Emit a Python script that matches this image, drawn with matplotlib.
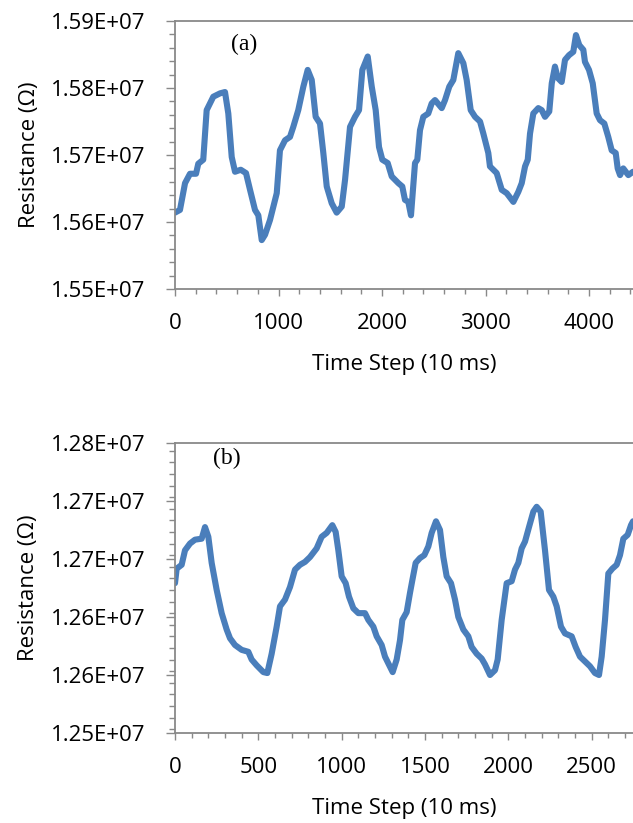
import matplotlib
matplotlib.use("Agg")
import matplotlib.pyplot as plt
import numpy as np
from matplotlib.ticker import MultipleLocator, FuncFormatter

# Panel (a): time step vs resistance (x1e7 ohm)
t_a = [0, 48, 97, 145, 203, 225, 273, 306, 370, 435, 483, 515, 548, 580, 635, 686, 725,
       773, 805, 838, 870, 918, 983, 1014, 1063, 1111, 1143, 1191, 1240, 1282, 1321, 1359,
       1401, 1433, 1466, 1514, 1562, 1611, 1643, 1691, 1739, 1778, 1810, 1862, 1901, 1939,
       1971, 2003, 2055, 2094, 2158, 2196, 2222, 2254, 2280, 2319, 2341, 2367, 2399, 2447,
       2480, 2512, 2577, 2609, 2650, 2689, 2737, 2786, 2818, 2857, 2899, 2947, 2979, 3027,
       3043, 3108, 3157, 3205, 3269, 3317, 3350, 3382, 3408, 3430, 3462, 3510, 3543, 3575,
       3616, 3640, 3671, 3698, 3736, 3768, 3807, 3848, 3874, 3906, 3945, 3961, 4000, 4036,
       4074, 4106, 4148, 4186, 4219, 4258, 4277, 4300, 4331, 4380, 4425]
r_a = [1.5614, 1.5618, 1.5658, 1.5672, 1.5672, 1.5687, 1.5693, 1.5767, 1.5787, 1.5792,
       1.5794, 1.5762, 1.5697, 1.5675, 1.5678, 1.5673, 1.5648, 1.5618, 1.5610, 1.5573,
       1.5581, 1.5603, 1.5643, 1.5707, 1.5722, 1.5727, 1.5742, 1.5767, 1.5802, 1.5827,
       1.5812, 1.5757, 1.5747, 1.5703, 1.5653, 1.5628, 1.5614, 1.5623, 1.5663, 1.5742,
       1.5757, 1.5767, 1.5827, 1.5847, 1.5802, 1.5767, 1.5712, 1.5693, 1.5688, 1.5668,
       1.5658, 1.5653, 1.5633, 1.5630, 1.5610, 1.5688, 1.5693, 1.5737, 1.5757, 1.5762,
       1.5777, 1.5782, 1.5770, 1.5782, 1.5802, 1.5812, 1.5852, 1.5837, 1.5812, 1.5767,
       1.5757, 1.5750, 1.5732, 1.5703, 1.5683, 1.5673, 1.5648, 1.5643, 1.5630, 1.5645,
       1.5658, 1.5683, 1.5693, 1.5732, 1.5762, 1.5770, 1.5767, 1.5757, 1.5765, 1.5807,
       1.5832, 1.5815, 1.5809, 1.5842, 1.5849, 1.5854, 1.5879, 1.5864, 1.5857, 1.5839,
       1.5827, 1.5807, 1.5762, 1.5752, 1.5747, 1.5727, 1.5707, 1.5703, 1.5680, 1.5670,
       1.5680, 1.5670, 1.5675]

# Panel (b)
t_b = [0, 10, 40, 60, 90, 120, 160, 180, 200, 220, 250, 280, 310, 330, 360, 400, 440, 460,
       490, 530, 554, 580, 610, 630, 660, 690, 720, 750, 780, 810, 850, 880, 910, 944, 964,
       980, 1000, 1024, 1044, 1070, 1100, 1140, 1160, 1190, 1210, 1240, 1260, 1280, 1306,
       1330, 1350, 1364, 1390, 1410, 1424, 1444, 1470, 1496, 1520, 1540, 1566, 1590, 1610,
       1630, 1656, 1680, 1700, 1730, 1760, 1780, 1810, 1840, 1860, 1890, 1920, 1936, 1960,
       1990, 2020, 2040, 2060, 2080, 2100, 2124, 2150, 2170, 2194, 2220, 2244, 2270, 2290,
       2316, 2340, 2380, 2404, 2430, 2460, 2490, 2520, 2544, 2560, 2580, 2600, 2624, 2650,
       2670, 2690, 2716, 2736, 2748]
r_b = [1.2655, 1.2670, 1.2674, 1.2689, 1.2696, 1.2700, 1.2701, 1.2713, 1.2703, 1.2676,
       1.2648, 1.2624, 1.2607, 1.2598, 1.2591, 1.2586, 1.2584, 1.2576, 1.2570, 1.2563,
       1.2562, 1.2582, 1.2610, 1.2631, 1.2638, 1.2651, 1.2669, 1.2674, 1.2677, 1.2682,
       1.2691, 1.2703, 1.2707, 1.2715, 1.2708, 1.2689, 1.2662, 1.2655, 1.2641, 1.2629,
       1.2624, 1.2624, 1.2617, 1.2610, 1.2600, 1.2591, 1.2579, 1.2572, 1.2563, 1.2576,
       1.2596, 1.2617, 1.2625, 1.2645, 1.2658, 1.2676, 1.2681, 1.2684, 1.2693, 1.2707,
       1.2719, 1.2710, 1.2682, 1.2662, 1.2655, 1.2638, 1.2620, 1.2607, 1.2600, 1.2589,
       1.2582, 1.2577, 1.2571, 1.2560, 1.2565, 1.2576, 1.2617, 1.2655, 1.2657, 1.2669,
       1.2676, 1.2691, 1.2698, 1.2713, 1.2729, 1.2734, 1.2729, 1.2689, 1.2648, 1.2641,
       1.2631, 1.2610, 1.2603, 1.2600, 1.2589, 1.2579, 1.2574, 1.2569, 1.2562, 1.2560,
       1.2579, 1.2617, 1.2665, 1.2670, 1.2674, 1.2684, 1.2701, 1.2705, 1.2715, 1.2719]

plt.rcParams['font.family'] = ['Open Sans', 'DejaVu Sans']

line_color = '#4a7ebb'
axis_color = '#898989'

fig = plt.figure(figsize=(6.33, 8.23), dpi=100)


def style_axes(ax, xmax, xmaj, xmin, ylo, yhi, ymaj, ymin, tag, tag_pos):
    ax.set_xlim(0, xmax)
    ax.set_ylim(ylo, yhi)
    ax.xaxis.set_major_locator(MultipleLocator(xmaj))
    ax.xaxis.set_minor_locator(MultipleLocator(xmin))
    ax.set_yticks(np.arange(ylo, yhi + ymaj / 2, ymaj))
    ax.yaxis.set_minor_locator(MultipleLocator(ymin))
    ax.yaxis.set_major_formatter(FuncFormatter(lambda v, p: f"{v:.2E}"))
    for s in ['left', 'bottom', 'top']:
        ax.spines[s].set_color(axis_color)
        ax.spines[s].set_linewidth(1.3)
    ax.spines['right'].set_visible(False)
    ax.tick_params(axis='both', which='both', direction='out', color=axis_color,
                   width=1.0, labelsize=16, labelcolor='black')
    ax.tick_params(axis='y', which='major', length=6.5, pad=15)
    ax.tick_params(axis='y', which='minor', length=4)
    ax.tick_params(axis='x', which='major', length=5, pad=12)
    ax.tick_params(axis='x', which='minor', length=3.5)
    ax.set_xlabel('Time Step (10 ms)', fontsize=16, labelpad=15)
    ax.set_ylabel('Resistance (Ω)', fontsize=16, labelpad=8)
    ax.text(tag_pos[0], tag_pos[1], tag, transform=ax.transAxes, ha='center', va='center',
            fontsize=17, family='Liberation Serif')


# panel (a)
ax1 = fig.add_axes([175 / 633, 1 - 289 / 823, 458 / 633, 268 / 823])
ax1.plot(t_a, np.array(r_a) * 1e7, color=line_color, linewidth=4.4, solid_joinstyle='round',
         solid_capstyle='round')
style_axes(ax1, 4425, 1000, 200, 1.55e7, 1.59e7, 1e5, 2e4, '(a)', (0.151, 0.914))

# panel (b)
ax2 = fig.add_axes([175 / 633, 1 - 733 / 823, 458 / 633, 290 / 823])
ax2.plot(t_b, np.array(r_b) * 1e7, color=line_color, linewidth=4.4, solid_joinstyle='round',
         solid_capstyle='round')
style_axes(ax2, 2748, 500, 100, 1.25e7, 1.28e7, 6e4, 1.2e4, '(b)', (0.113, 0.945))

fig.savefig('out.png', dpi=100)
